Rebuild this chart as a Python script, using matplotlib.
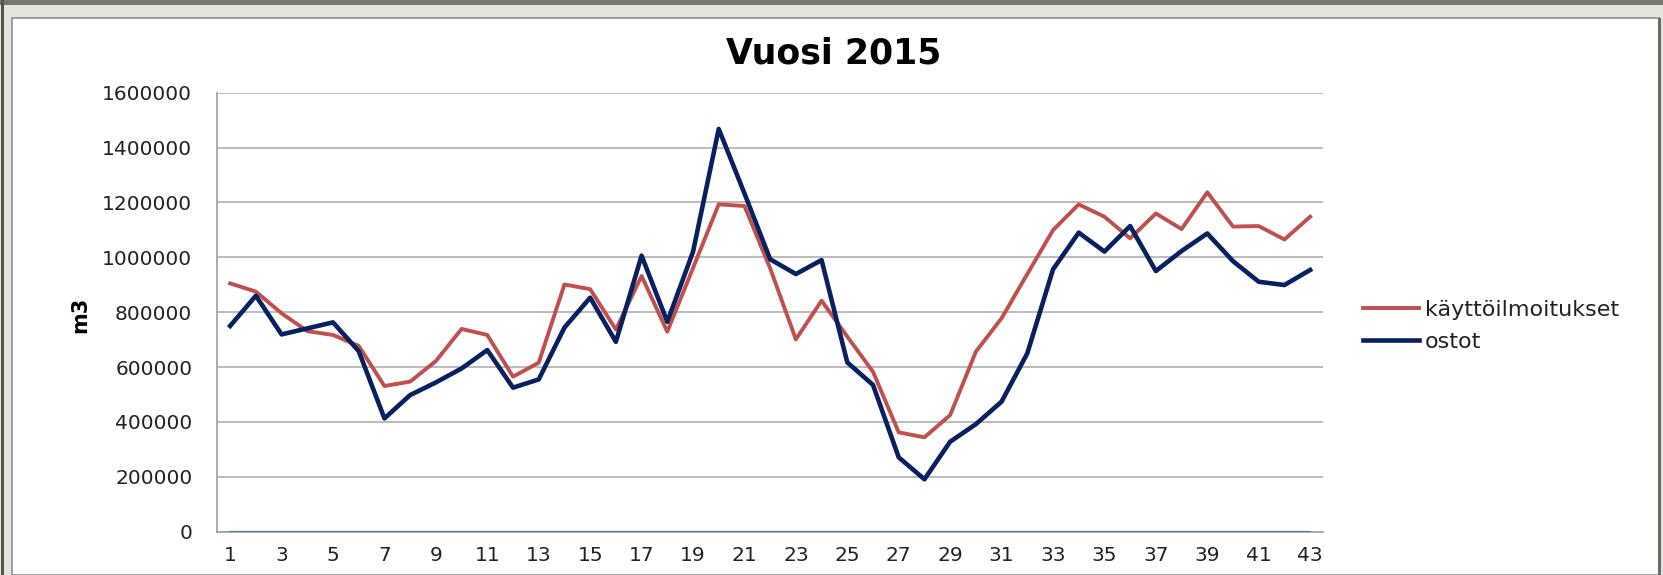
import matplotlib
matplotlib.use("Agg")
import matplotlib.pyplot as plt
from matplotlib.patches import Rectangle

# Data (m3 per week)
viikot = list(range(1, 44))
kayttoilmoitukset = [905000, 875000, 796000, 731000, 717000, 677000, 531000, 547000, 622000, 739000,
                     717000, 565000, 616000, 901000, 884000, 737000, 932000, 729000, 961000, 1193000,
                     1187000, 960000, 701000, 842000, 711000, 583000, 362000, 344000, 425000, 656000,
                     778000, 939000, 1099000, 1193000, 1148000, 1069000, 1160000, 1103000, 1237000, 1112000,
                     1114000, 1065000, 1148000]
ostot = [750000, 860000, 719000, 741000, 763000, 658000, 413000, 498000, 544000, 595000,
         662000, 525000, 555000, 744000, 853000, 692000, 1006000, 765000, 1020000, 1468000,
         1233000, 993000, 939000, 990000, 617000, 535000, 271000, 191000, 328000, 392000,
         474000, 650000, 956000, 1090000, 1021000, 1114000, 950000, 1023000, 1087000, 986000,
         911000, 899000, 954000]
nolla = [0] * 43
y_ticks = [0, 200000, 400000, 600000, 800000, 1000000, 1200000, 1400000, 1600000]

C_RED = "#c0504d"
C_NAVY = "#062060"
C_ZERO = "#4a7ebb"
C_GRID = "#b0b0b0"

W, H = 1663, 575
fig = plt.figure(figsize=(W / 100, H / 100), dpi=100, facecolor="#e4e4dd")

# window chrome round the chart
fig.patches.append(Rectangle((0, 1 - 5 / H), 1, 5 / H, transform=fig.transFigure,
                             fc="#77776d", ec="none", zorder=0))
fig.patches.append(Rectangle((11.7 / W, 0), (1659 - 11.7) / W, 1 - 18.3 / H,
                             transform=fig.transFigure, fc="white", ec="#8e8e8e",
                             lw=1.2, zorder=0))
fig.patches.append(Rectangle((1658 / W, 0), 3 / W, 1 - 18.3 / H, transform=fig.transFigure,
                             fc="#6a6a6a", ec="none", zorder=0))
fig.patches.append(Rectangle((1 / W, 0), 2.5 / W, 1, transform=fig.transFigure,
                             fc="#55554f", ec="none", zorder=0))

ax = fig.add_axes([217.3 / W, 43.3 / H, (1323 - 217.3) / W, 439 / H])
ax.set_zorder(2)
ax.set_facecolor("white")

ax.plot(viikot, nolla, color=C_ZERO, lw=1.6, zorder=3)
ax.plot(viikot, kayttoilmoitukset, color=C_RED, lw=2.8, label="käyttöilmoitukset", zorder=4)
ax.plot(viikot, ostot, color=C_NAVY, lw=3.3, label="ostot", zorder=5)

ax.set_xlim(0.5, 43.5)
ax.set_ylim(0, 1600000)
ax.set_yticks(y_ticks)
ax.set_yticklabels([str(v) for v in y_ticks])
ax.set_xticks(viikot[::2])
ax.grid(axis="y", color=C_GRID, lw=1.2)
ax.set_axisbelow(True)
for s in ("top", "right"):
    ax.spines[s].set_visible(False)
for s in ("left", "bottom"):
    ax.spines[s].set_color("#a0a0a0")
    ax.spines[s].set_linewidth(1.2)
ax.tick_params(axis="both", length=0, labelsize=14.5, colors="#222222")
ax.tick_params(axis="y", pad=18)
ax.tick_params(axis="x", pad=10)

fig.text(834 / W, 1 - 63 / H, "Vuosi 2015", ha="center", va="baseline",
         fontsize=25, fontweight="bold", color="black", zorder=3)
fig.text(80 / W, 1 - 315 / H, "m3", rotation=90, ha="center", va="center",
         fontsize=15, fontweight="bold", color="black", zorder=3)

leg = ax.legend(loc="center left", bbox_to_anchor=(1363 / W, 1 - 326 / H),
                bbox_transform=fig.transFigure, frameon=False, fontsize=16,
                handlelength=2.5, handletextpad=0.3, labelspacing=0.55,
                borderpad=0, borderaxespad=0)
for t in leg.get_texts():
    t.set_color("#222222")

fig.savefig("out.png", dpi=100, facecolor=fig.get_facecolor())
